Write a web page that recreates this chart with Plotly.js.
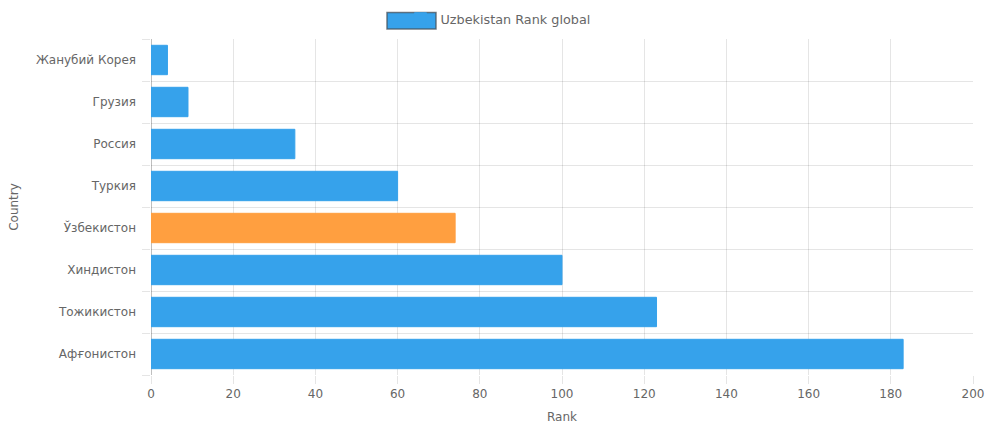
<!DOCTYPE html>
<html>
<head>
<meta charset="utf-8">
<script src="https://cdn.plot.ly/plotly-3.0.1.min.js"></script>
<style>html,body{margin:0;padding:0;background:#fff;}#chart{width:988px;height:424px;}</style>
</head>
<body>
<div id="chart"></div>
<script>
const countries = ["Жанубий Корея", "Грузия", "Россия", "Туркия", "Ўзбекистон", "Хиндистон", "Тожикистон", "Афғонистон"];
const ranks = [4, 9, 35, 60, 74, 100, 123, 183];
const highlightCountry = "Ўзбекистон";
const seriesName = "Uzbekistan Rank global";
const xTicks = [0, 20, 40, 60, 80, 100, 120, 140, 160, 180, 200];

const blue = "#36A2EB";
const orange = "#FF9F40";
const colors = countries.map(c => c === highlightCountry ? orange : blue);

const font = {family: "DejaVu Sans, Verdana, sans-serif", size: 12, color: "#666"};
const grid = "rgba(0,0,0,0.1)";
const n = countries.length;
// category boundaries for the horizontal grid (between categories, like the reference)
const boundaries = [];
for (let i = 0; i <= n; i++) boundaries.push(i - 0.5);

Plotly.newPlot("chart", [{
  type: "bar",
  orientation: "h",
  x: ranks,
  y: countries,
  name: seriesName,
  showlegend: true,
  marker: {color: colors, line: {color: colors, width: 1}},
  hoverinfo: "x+y"
}, {
  // empty helper trace so the boundary-grid axis is drawn
  type: "scatter", mode: "markers", x: [], y: [], yaxis: "y2",
  showlegend: false, hoverinfo: "skip"
}], {
  width: 988, height: 424,
  margin: {l: 151, r: 15, t: 39, b: 49, autoexpand: false},
  paper_bgcolor: "#fff", plot_bgcolor: "#fff",
  font: font,
  bargap: 0.3,
  showlegend: true,
  legend: {orientation: "h", x: 0.3035, xanchor: "left", y: 1.0595, yanchor: "middle",
           font: Object.assign({}, font, {size: 12.8}), bgcolor: "rgba(0,0,0,0)"},
  shapes: [{
    type: "rect", xref: "paper", yref: "paper", layer: "below",
    x0: 0.2871, x1: 0.3467, y0: 1.0298, y1: 1.0789,
    fillcolor: blue, line: {color: "rgba(70,80,90,0.75)", width: 1.5}
  }],
  xaxis: {
    range: [0, 200], tickvals: xTicks, ticktext: xTicks.map(String),
    showgrid: true, gridcolor: grid, gridwidth: 1,
    zeroline: true, zerolinecolor: "rgba(0,0,0,0.25)", zerolinewidth: 1,
    ticks: "outside", ticklen: 8, tickcolor: grid, tickfont: font,
    showline: false, fixedrange: true,
    title: {text: "Rank", font: font, standoff: 12}
  },
  yaxis: {
    type: "category", categoryorder: "array", categoryarray: countries, range: [n - 0.5, -0.5],
    showgrid: false, zeroline: false,
    ticks: "", tickfont: font, ticklabelstandoff: 14,
    showline: false, fixedrange: true,
    title: {text: "Country", font: font, standoff: 14}
  },
  yaxis2: {
    overlaying: "y", side: "left", type: "linear", range: [n - 0.5, -0.5],
    tickvals: boundaries, showticklabels: false,
    showgrid: true, gridcolor: grid, gridwidth: 1, zeroline: false,
    ticks: "outside", ticklen: 8, tickcolor: grid,
    showline: false, fixedrange: true
  }
}, {displayModeBar: false, staticPlot: true});
</script>
</body>
</html>
